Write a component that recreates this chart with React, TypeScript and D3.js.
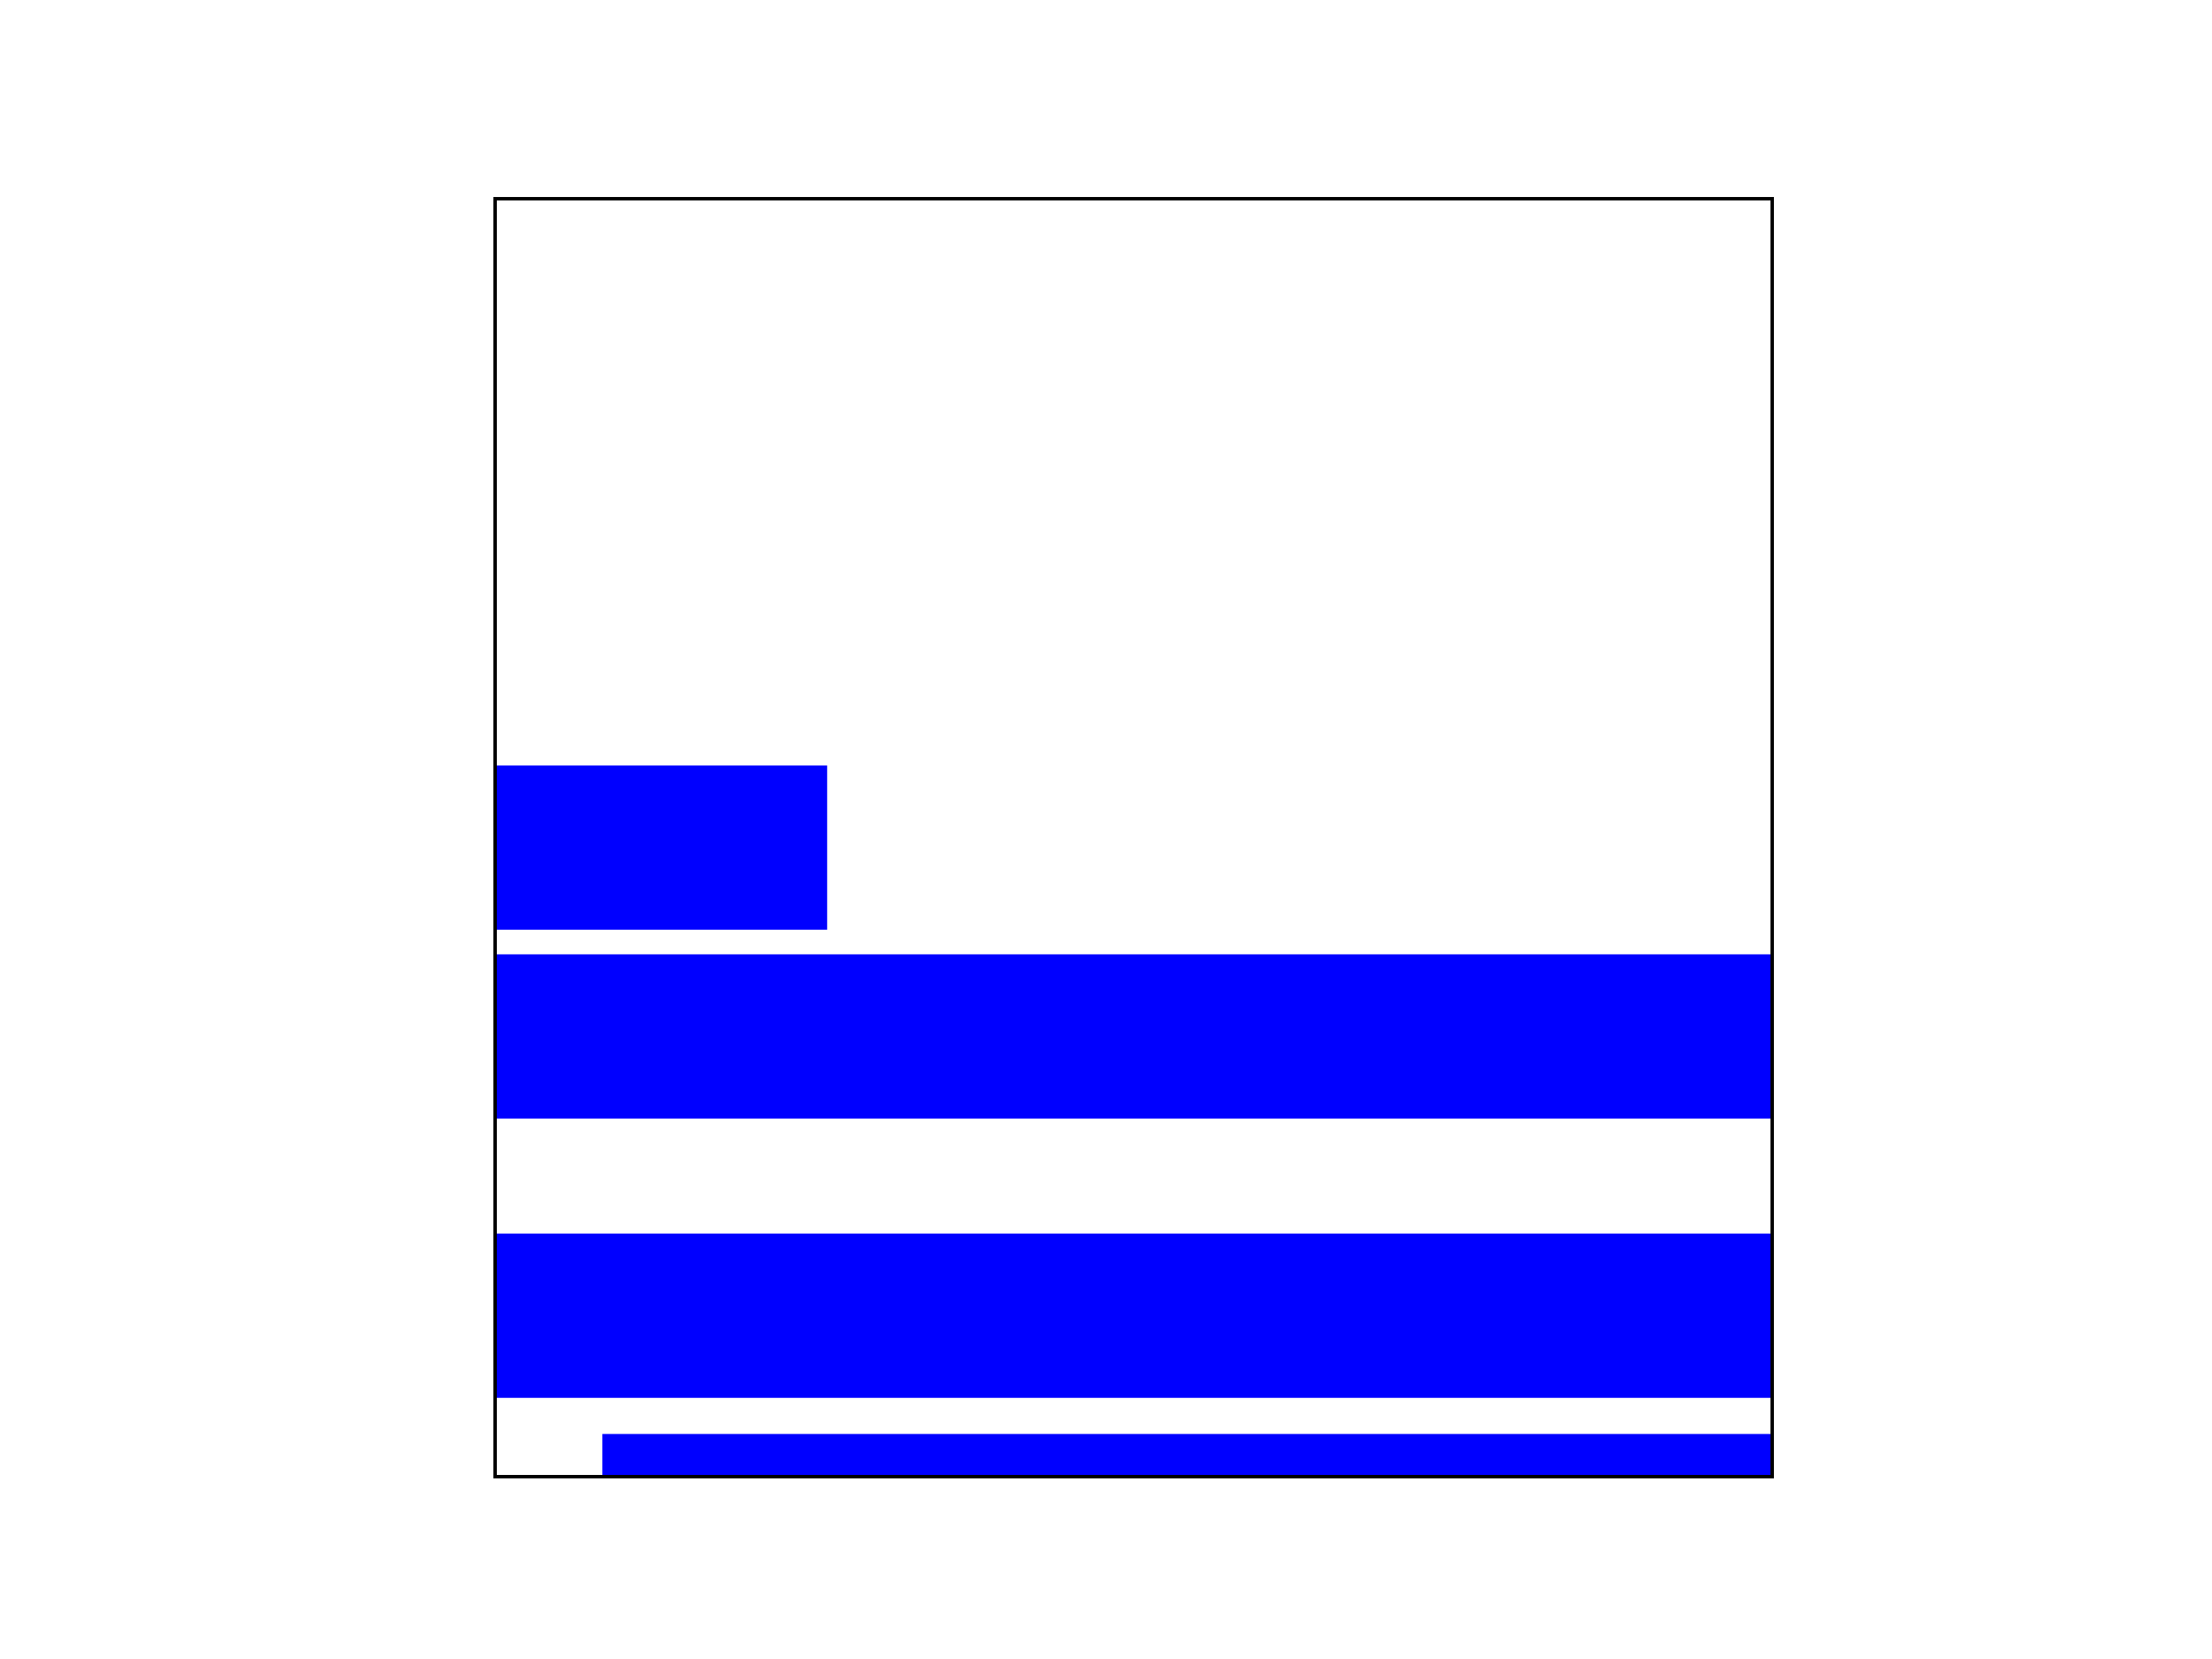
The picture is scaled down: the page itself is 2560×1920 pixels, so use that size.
import React, { useEffect, useRef } from "react";
import * as d3 from "d3";

// bar values (data units)
const barCenters = [3.83, 2.68, 0.98, -0.24];
const barLefts = [0, 0, 0, 0.84];
const barWidths = [2.6, 12, 12, 12];
const barHeight = 1;

const xDomain: [number, number] = [0, 10];
const yDomain: [number, number] = [0, 7.78];

const App: React.FC = () => {
  const svgRef = useRef<SVGSVGElement | null>(null);

  const width = 2560;
  const height = 1920;
  const margin = { top: 230, right: 509, bottom: 211, left: 573 };

  useEffect(() => {
    if (!svgRef.current) return;
    const svg = d3.select(svgRef.current);
    svg.selectAll("*").remove();

    const innerW = width - margin.left - margin.right;
    const innerH = height - margin.top - margin.bottom;

    const x = d3.scaleLinear().domain(xDomain).range([0, innerW]);
    const y = d3.scaleLinear().domain(yDomain).range([innerH, 0]);

    svg
      .append("defs")
      .append("clipPath")
      .attr("id", "plot-clip")
      .append("rect")
      .attr("width", innerW)
      .attr("height", innerH);

    const g = svg
      .append("g")
      .attr("transform", `translate(${margin.left},${margin.top})`);

    const bars = barCenters.map((c, i) => ({
      y: c,
      left: barLefts[i],
      w: barWidths[i],
    }));

    g.append("g")
      .attr("clip-path", "url(#plot-clip)")
      .selectAll("rect")
      .data(bars)
      .enter()
      .append("rect")
      .attr("x", (d) => x(d.left))
      .attr("y", (d) => y(d.y + barHeight / 2))
      .attr("width", (d) => x(d.left + d.w) - x(d.left))
      .attr("height", (d) => y(d.y - barHeight / 2) - y(d.y + barHeight / 2))
      .attr("fill", "#0000ff");

    // axes frame (no ticks)
    g.append("rect")
      .attr("width", innerW)
      .attr("height", innerH)
      .attr("fill", "none")
      .attr("stroke", "#000")
      .attr("stroke-width", 4);
  }, []);

  return (
    <svg
      ref={svgRef}
      width={width}
      height={height}
      style={{ position: "absolute", left: 0, top: 0, background: "#fff" }}
    />
  );
};

export default App;
